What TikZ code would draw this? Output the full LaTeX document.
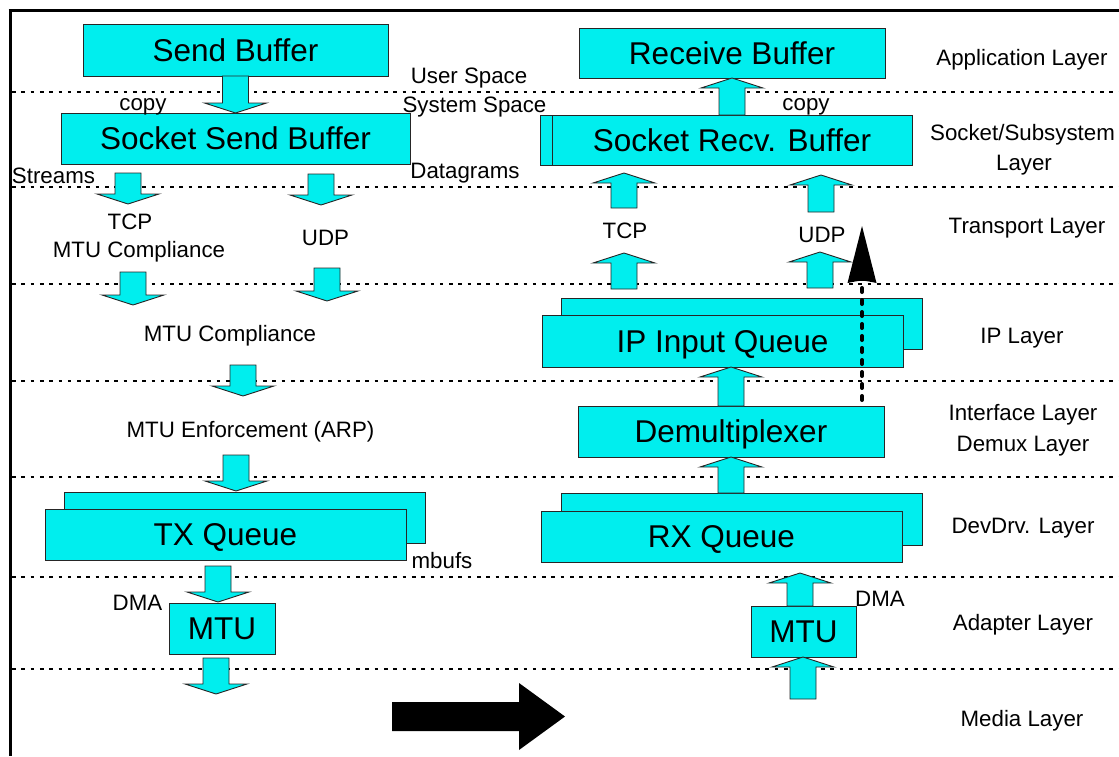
\documentclass[tikz,border=0pt]{standalone}
\usepackage{fontspec}
\setmainfont{Liberation Sans}
\usetikzlibrary{calc}

\definecolor{boxcyan}{RGB}{0,238,238}
\newcommand\boxfont{\fontsize{31.5}{36}\selectfont}
\newcommand\lblfont{\fontsize{22.3}{26}\selectfont}

\tikzset{
  qbox/.style={draw=black!85, line width=1pt, fill=boxcyan, inner sep=0pt,
    outer sep=0pt, font=\boxfont, text height=22.5pt, text depth=0pt},
  lbl/.style={font=\lblfont, inner sep=0pt, anchor=base},
  layerline/.style={dash pattern=on 3.6pt off 5.7pt, line width=2.8pt},
  blockarrow/.style={draw=black!85, line width=0.9pt, fill=boxcyan, line join=miter},
  framerule/.style={line width=3pt},
  dotline/.style={line width=4pt, line cap=round, dash pattern=on 4pt off 8pt},
}

% fat cyan arrow, vertical, from #1 (tail centre) to #2 (tip)
\newcommand\blockarrow[2]{%
  \path[blockarrow] let \p1=#1, \p2=#2, \n2={\y2-sign(\y2-\y1)*10pt} in
    (\x1-13pt,\y1) -- (\x1-13pt,\n2) -- (\x1-31pt,\n2) -- (\x1,\y2)
    -- (\x1+31pt,\n2) -- (\x1+13pt,\n2) -- (\x1+13pt,\y1) -- cycle;
}

\begin{document}
\begin{tikzpicture}[x=1pt,y=-1pt]
\useasboundingbox (0,0) rectangle (1119,756);

% frame
\draw[framerule] (8.5,10.5) -- (1119,10.5);
\draw[framerule] (10.5,9) -- (10.5,756);

% layer separators
\foreach \yy in {92,187,284,381,477,577,669}
  \draw[layerline] (12,\yy) -- (1119,\yy);

% ---- send side ----
\node[qbox, minimum width=305pt, minimum height=52pt] (sendbuf) at (235.5,50) {Send Buffer};
\node[qbox, minimum width=349pt, minimum height=51pt] (socksend) at (235.5,138.5) {Socket Send Buffer};
\node[qbox, minimum width=361pt, minimum height=51pt] (txqb) at (244.5,517.5) {};
\node[qbox, minimum width=361pt, minimum height=51pt] (txq) at (225.5,534.5) {TX Queue};
\node[qbox, minimum width=106pt, minimum height=51pt] (mtutx) at (222,628.5) {MTU};

% ---- receive side ----
\node[qbox, minimum width=306pt, minimum height=50pt] (recvbuf) at (732,53) {Receive Buffer};
\node[qbox, minimum width=12pt, minimum height=50pt] (sockrecvtab) at (546,140) {};
\node[qbox, minimum width=360pt, minimum height=50pt] (sockrecv) at (732,140) {Socket Recv. Buffer};
\node[qbox, minimum width=361pt, minimum height=51pt] (ipqb) at (741.5,323.5) {};
\node[qbox, minimum width=361pt, minimum height=52pt] (ipq) at (722.5,341) {IP Input Queue};
\node[qbox, minimum width=306pt, minimum height=51pt] (demux) at (731,431.5) {Demultiplexer};
\node[qbox, minimum width=361pt, minimum height=52pt] (rxqb) at (741.5,519) {};
\node[qbox, minimum width=361pt, minimum height=51pt] (rxq) at (721.5,536.5) {RX Queue};
\node[qbox, minimum width=105pt, minimum height=51pt] (mturx) at (803.5,631.5) {MTU};

% ---- labels ----
\node[lbl] (user) at (469,83) {User Space};
\node[lbl] (system) at (474.5,112) {System Space};
\node[lbl] (copyl) at (143,110) {copy};
\node[lbl] (copyr) at (806,110) {copy};
\node[lbl] (streams) at (53.5,183) {Streams};
\node[lbl] (datagrams) at (465,178) {Datagrams};
\node[lbl] (tcpl) at (130,229) {TCP};
\node[lbl] (mtucl) at (139,257) {MTU Compliance};
\node[lbl] (udpl) at (325.5,245) {UDP};
\node[lbl] (mtuc) at (230,341) {MTU Compliance};
\node[lbl] (mtue) at (250.5,437) {MTU Enforcement (ARP)};
\node[lbl] (mbufs) at (442,568) {mbufs};
\node[lbl] (dmal) at (137.5,610) {DMA};
\node[lbl] (dmar) at (880,606) {DMA};
\node[lbl] (tcpr) at (625,238) {TCP};
\node[lbl] (udpr) at (822,242) {UDP};

% layer names
\node[lbl] (lapp) at (1022,65) {Application Layer};
\node[lbl] (lsock) at (1022.5,140) {Socket/Subsystem};
\node[lbl] (lsock2) at (1024,170) {Layer};
\node[lbl] (ltrans) at (1027,233) {Transport Layer};
\node[lbl] (lip) at (1022,343) {IP Layer};
\node[lbl] (lif) at (1023,420) {Interface Layer};
\node[lbl] (ldmx) at (1023,451) {Demux Layer};
\node[lbl] (ldev) at (1023,533) {DevDrv. Layer};
\node[lbl] (ladp) at (1023,630) {Adapter Layer};
\node[lbl] (lmed) at (1022,726) {Media Layer};

% ---- send path arrows ----
\blockarrow{(sendbuf.south)}{(socksend.north)}
\blockarrow{(128,173)}{(128,204)}
\blockarrow{(321,174)}{(321,205)}
\blockarrow{(133,272)}{(133,305)}
\blockarrow{(327,268)}{(327,301)}
\blockarrow{(243,365)}{(243,396)}
\blockarrow{(236,455)}{(236,491)}
\blockarrow{(218,566)}{(218,602)}
\blockarrow{(216,658)}{(216,694)}

% ---- receive path arrows ----
\blockarrow{(sockrecv.north)}{(recvbuf.south)}
\blockarrow{(624,208)}{(624,173)}
\blockarrow{(821,212)}{(821,175)}
\blockarrow{(624,289)}{(624,253)}
\blockarrow{(820,288)}{(820,252)}
\blockarrow{(demux.north)}{(demux.north |- ipq.south)}
\blockarrow{(demux.south |- rxqb.north)}{(demux.south)}
\blockarrow{(800,606)}{(800,573)}
\blockarrow{(803,699)}{(803,657)}

% bypass from demux straight up to transport
\coordinate (bypassfoot) at (862,400);
\coordinate (bypassbase) at (862,283);
\coordinate (bypasstip) at (862,226);
\draw[dotline] (bypassfoot) -- (bypassbase);
\fill ([xshift=-14.5pt]bypassbase) -- (bypasstip) -- ([xshift=14.5pt]bypassbase)
  .. controls ([yshift=3pt]bypassbase) .. cycle;

% direction of flow
\fill (392,702) -- (519,702) -- (519,683) -- (565,716.5) -- (519,750)
  -- (519,731) -- (392,731) -- cycle;
\end{tikzpicture}
\end{document}
